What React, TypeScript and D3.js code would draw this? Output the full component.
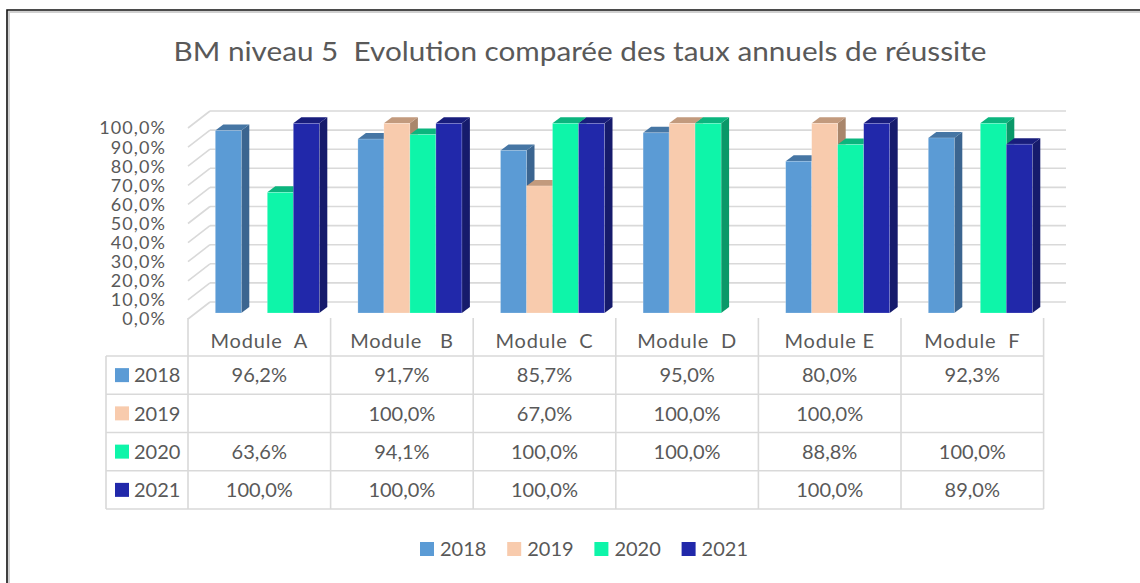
import React from "react";
import * as d3 from "d3";

// chart data
const modules = ["Module  A", "Module   B", "Module  C", "Module  D", "Module E", "Module  F"];
const years = ["2018", "2019", "2020", "2021"];
const v2018 = [96.2, 91.7, 85.7, 95.0, 80.0, 92.3];
const v2019 = [null, 100, 67.0, 100, 100, null];
const v2020 = [63.6, 94.1, 100, 100, 88.8, 100];
const v2021 = [100, 100, 100, null, 100, 89.0];
const yTicks = [0, 10, 20, 30, 40, 50, 60, 70, 80, 90, 100];

const series = [v2018, v2019, v2020, v2021];

// front / top / side colours per year
const colors = {
  "2018": ["#5b9bd5", "#4676a4", "#3b6590"],
  "2019": ["#f8cbad", "#c29a7d", "#a9866b"],
  "2020": ["#0ef5a9", "#0bb57e", "#0a9868"],
  "2021": ["#2128aa", "#181d7c", "#161b6c"],
};

const FONT = "Lato, 'Open Sans', sans-serif";
const TXT = "#595959";
const GRID = "#d9d9d9";

const fr = d3.formatLocale({ decimal: ",", thousands: " ", grouping: [3], currency: ["", "€"] });
const pct = (v: number) => fr.format(".1f")(v) + "%";

export default function App() {
  const W = 1140;
  const H = 583;

  // category columns (shared by bars and table)
  const xCat = d3.scaleBand<string>().domain(modules).range([188, 1043.6]).padding(0);
  const groupW = 104;
  const xBar = d3.scaleBand<string>().domain(years).range([0, groupW]);
  const groupOffset = (xCat.bandwidth() - groupW) / 2 + 8;

  // back wall and bar fronts
  const yBack = d3.scaleLinear().domain([0, 100]).range([302, 111]);
  const yBar = d3.scaleLinear().domain([0, 100]).range([313, 123.3]);
  const depthX = 22, depthY = 17; // side wall
  const dx = 8, dy = 6; // bar depth

  // table rows
  const rowY = d3.scaleBand<string>().domain(years).range([356, 509]);
  const tableLeft = 106;
  const tableRight = xCat.range()[1];

  return (
    <svg width={W} height={H} style={{ position: "absolute", left: 0, top: 0, background: "#fff" }}>
      {/* frame */}
      <path d={`M9,${H} L9,12 L${W},12`} fill="none" stroke="#d0d0d0" strokeWidth={2} />
      <path d={`M7,${H} L7,10 L${W},10`} fill="none" stroke="#111" strokeWidth={1.6} />

      <text x={0} y={0} textAnchor="middle" fontFamily={FONT} fontSize={27} fill={TXT}
        transform="translate(580,61) scale(1.1,1)" style={{ whiteSpace: "pre" }}>
        {"BM niveau 5  Evolution comparée des taux annuels de réussite"}
      </text>

      {/* back wall + side wall grid */}
      {yTicks.map((t) => (
        <g key={t}>
          <line x1={210} x2={1066} y1={yBack(t)} y2={yBack(t)} stroke={GRID} strokeWidth={1.6} />
          <line x1={210 - depthX} x2={210} y1={yBack(t) + depthY} y2={yBack(t)} stroke={GRID} strokeWidth={1.6} />
          <text x={166} y={yBack(t) + depthY} dy="0.36em" textAnchor="end" fontFamily={FONT}
            fontSize={18} letterSpacing={1.1} fill={TXT}>{pct(t)}</text>
        </g>
      ))}

      {/* 3D bars */}
      {modules.map((m, i) => (
        <g key={m}>
          {years.map((yr, s) => {
            const v = series[s][i];
            if (v == null) return null;
            const x0 = (xCat(m) as number) + groupOffset + (xBar(yr) as number);
            const w = xBar.bandwidth();
            const yt = yBar(v);
            const yb = yBar(0);
            const [cf, ct, cs] = colors[yr];
            return (
              <g key={yr}>
                <polygon points={`${x0 + w},${yt} ${x0 + w + dx},${yt - dy} ${x0 + w + dx},${yb - dy} ${x0 + w},${yb}`} fill={cs} />
                <polygon points={`${x0},${yt} ${x0 + dx},${yt - dy} ${x0 + w + dx},${yt - dy} ${x0 + w},${yt}`} fill={ct} />
                <rect x={x0} y={yt} width={w} height={yb - yt} fill={cf}
                  stroke="rgba(255,255,255,0.35)" strokeWidth={0.6} />
              </g>
            );
          })}
        </g>
      ))}

      {/* data table */}
      <g>
        {xCat.domain().concat([""]).map((m, i) => {
          const x = i < modules.length ? (xCat(m) as number) : tableRight;
          return <line key={"v" + i} x1={x} x2={x} y1={318} y2={509} stroke={GRID} strokeWidth={1.6} />;
        })}
        <line x1={tableLeft} x2={tableLeft} y1={356} y2={509} stroke={GRID} strokeWidth={1.6} />
        {years.map((yr) => (
          <line key={"h" + yr} x1={tableLeft} x2={tableRight} y1={rowY(yr)} y2={rowY(yr)} stroke={GRID} strokeWidth={1.6} />
        ))}
        <line x1={tableLeft} x2={tableRight} y1={509} y2={509} stroke={GRID} strokeWidth={1.6} />

        {modules.map((m) => (
          <text key={m} x={(xCat(m) as number) + xCat.bandwidth() / 2} y={341} dy="0.36em"
            textAnchor="middle" fontFamily={FONT} fontSize={20} letterSpacing={0.8} fill={TXT}
            style={{ whiteSpace: "pre" }}>
            {m}
          </text>
        ))}

        {years.map((yr, s) => {
          const cy = (rowY(yr) as number) + rowY.bandwidth() / 2;
          return (
            <g key={yr}>
              <rect x={115} y={cy - 7} width={14} height={14} fill={colors[yr][0]} />
              <text x={134} y={cy} dy="0.36em" fontFamily={FONT} fontSize={20} fill={TXT}>{yr}</text>
              {modules.map((m, i) => {
                const v = series[s][i];
                if (v == null) return null;
                return (
                  <text key={m} x={(xCat(m) as number) + xCat.bandwidth() / 2} y={cy} dy="0.36em"
                    textAnchor="middle" fontFamily={FONT} fontSize={20} fill={TXT}>{pct(v)}</text>
                );
              })}
            </g>
          );
        })}
      </g>

      {/* legend */}
      {years.map((yr, i) => {
        const lx = 420 + i * 87.2;
        return (
          <g key={yr}>
            <rect x={lx} y={542} width={14} height={14} fill={colors[yr][0]} />
            <text x={lx + 20} y={549} dy="0.36em" fontFamily={FONT} fontSize={20} fill={TXT}>{yr}</text>
          </g>
        );
      })}
    </svg>
  );
}
